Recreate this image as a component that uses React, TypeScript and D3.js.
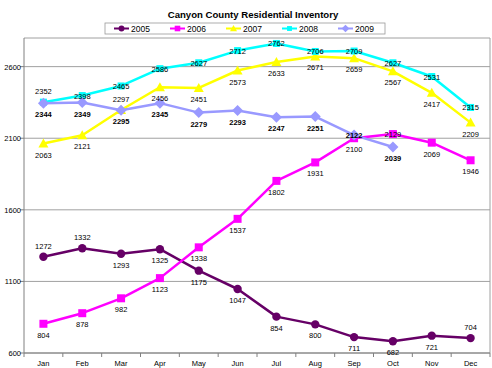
import React from 'react';
import * as d3 from 'd3';

const MONTHS = ['Jan', 'Feb', 'Mar', 'Apr', 'May', 'Jun', 'Jul', 'Aug', 'Sep', 'Oct', 'Nov', 'Dec'];
const Y_TICKS = [600, 1100, 1600, 2100, 2600];

const S2005 = [1272, 1332, 1293, 1325, 1175, 1047, 854, 800, 711, 682, 721, 704];
const S2006 = [804, 878, 982, 1123, 1338, 1537, 1802, 1931, 2100, 2129, 2069, 1946];
const S2007 = [2063, 2121, 2297, 2456, 2451, 2573, 2633, 2671, 2659, 2567, 2417, 2209];
const S2008 = [2352, 2398, 2465, 2586, 2627, 2712, 2762, 2706, 2709, 2627, 2531, 2315];
const S2009 = [2344, 2349, 2295, 2345, 2279, 2293, 2247, 2251, 2122, 2039];

// label placement: a = above, b = below, c = on marker
const P2005 = 'aabbbbbbbbba';
const P2006 = 'bbbbbbbbbcbb';
const P2007 = 'bbabbbbbbbbb';
const P2008 = 'accccccccccc';
const P2009 = 'bbbbbbbbcb';

const SERIES = [
  { name: '2005', values: S2005, pos: P2005, color: '#660066', marker: 'circle', bold: false },
  { name: '2006', values: S2006, pos: P2006, color: '#FF00FF', marker: 'square', bold: false },
  { name: '2007', values: S2007, pos: P2007, color: '#FFFF00', marker: 'triangle', bold: false },
  { name: '2008', values: S2008, pos: P2008, color: '#00FFFF', marker: 'smallsquare', bold: false },
  { name: '2009', values: S2009, pos: P2009, color: '#9999FF', marker: 'diamond', bold: true },
];

const W = 492, H = 368;
const left = 24, right = 490, top = 38, bottom = 353;

function Marker({ type, x, y, color }: { type: string; x: number; y: number; color: string }) {
  if (type === 'circle') return <circle cx={x} cy={y} r={4.2} fill={color} />;
  if (type === 'square') return <rect x={x - 4} y={y - 4} width={8} height={8} fill={color} />;
  if (type === 'smallsquare') return <rect x={x - 3.5} y={y - 3.5} width={7} height={7} fill={color} />;
  if (type === 'triangle') return <path d={`M${x},${y - 5}L${x + 5},${y + 4}L${x - 5},${y + 4}Z`} fill={color} />;
  return <path d={`M${x},${y - 5.5}L${x + 5.5},${y}L${x},${y + 5.5}L${x - 5.5},${y}Z`} fill={color} />;
}

export default function App() {
  const x = d3.scaleBand<string>().domain(MONTHS).range([left, right]);
  const y = d3.scaleLinear().domain([600, 2800]).range([bottom, top]);
  const cx = (i: number) => (x(MONTHS[i]) as number) + x.bandwidth() / 2;
  const line = d3.line<number>().x((_, i) => cx(i)).y((d) => y(d));
  const font = 'Liberation Sans, Arial, sans-serif';

  const legendX = 105;
  return (
    <svg width={W} height={H} style={{ position: 'absolute', left: 0, top: 0, fontFamily: font }}>
      <rect width={W} height={H} fill="#fff" />
      <text x={253} y={18} textAnchor="middle" fontSize={9.6} fontWeight="bold">Canyon County Residential Inventory</text>
      <rect x={legendX} y={23} width={280} height={11} fill="#fff" stroke="#999" strokeWidth={0.8} />
      {SERIES.map((s, k) => {
        const lx = legendX + 9 + k * 56;
        return (
          <g key={s.name}>
            <line x1={lx} x2={lx + 15} y1={28.5} y2={28.5} stroke={s.color} strokeWidth={2} />
            <g transform={`translate(${lx + 7.5},28.5) scale(0.7) translate(${-(lx + 7.5)},-28.5)`}>
              <Marker type={s.marker} x={lx + 7.5} y={28.5} color={s.color} />
            </g>
            <text x={lx + 17} y={32} fontSize={8.5}>{s.name}</text>
          </g>
        );
      })}
      {Y_TICKS.map((t) => (
        <g key={t}>
          <line x1={left} x2={right} y1={y(t)} y2={y(t)} stroke="#a0a0a0" strokeWidth={1} />
          <line x1={left - 4} x2={left} y1={y(t)} y2={y(t)} stroke="#808080" />
          <text x={left - 3} y={y(t) + 3} fontSize={7.5} textAnchor="end">{t}</text>
        </g>
      ))}
      <line x1={left} x2={right} y1={top} y2={top} stroke="#a0a0a0" />
      <line x1={right} x2={right} y1={top} y2={bottom} stroke="#a0a0a0" />
      <line x1={left} x2={left} y1={top} y2={bottom} stroke="#808080" />
      <line x1={left} x2={right} y1={bottom} y2={bottom} stroke="#808080" />
      {MONTHS.map((m, i) => (
        <g key={m}>
          <line x1={(x(m) as number)} x2={(x(m) as number)} y1={bottom} y2={bottom + 4} stroke="#808080" />
          <text x={cx(i)} y={366} fontSize={7.5} textAnchor="middle">{m}</text>
        </g>
      ))}
      <line x1={right} x2={right} y1={bottom} y2={bottom + 4} stroke="#808080" />
      {SERIES.map((s) => (
        <g key={s.name}>
          <path d={line(s.values) || ''} fill="none" stroke={s.color} strokeWidth={2.5} strokeLinejoin="round" />
          {s.values.map((v, i) => (
            <Marker key={i} type={s.marker} x={cx(i)} y={y(v)} color={s.color} />
          ))}
        </g>
      ))}
      {SERIES.map((s) => (
        <g key={s.name + 'l'}>
          {s.values.map((v, i) => {
            const p = s.pos[i];
            const dy = p === 'a' ? -8 : p === 'b' ? 14 : 3;
            return (
              <text key={i} x={cx(i)} y={y(v) + dy} fontSize={7.5} textAnchor="middle"
                fontWeight={s.bold ? 'bold' : 'normal'} fill="#000">{v}</text>
            );
          })}
        </g>
      ))}
    </svg>
  );
}
